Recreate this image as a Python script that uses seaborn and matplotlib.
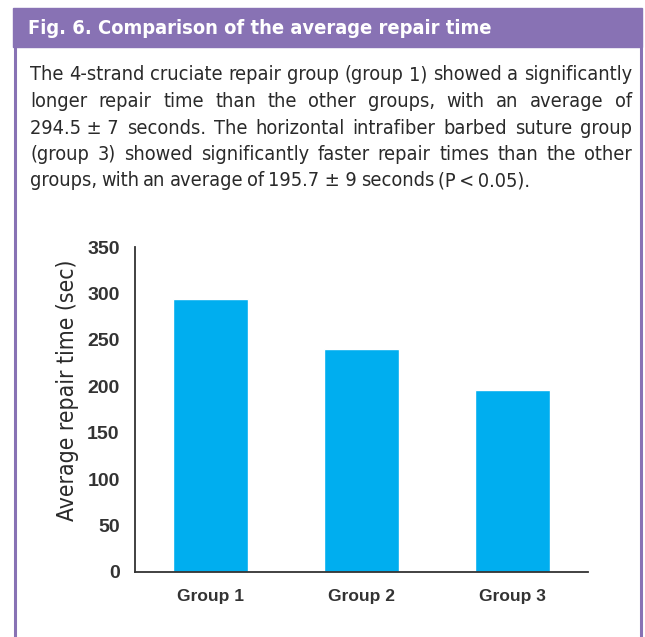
import matplotlib
matplotlib.use("Agg")
import matplotlib.pyplot as plt
import seaborn as sns
from matplotlib.patches import Rectangle
from matplotlib.lines import Line2D

# Data
groups = ["Group 1", "Group 2", "Group 3"]
repair_time = [294.5, 240.0, 195.7]
y_ticks = [0, 50, 100, 150, 200, 250, 300, 350]

title = "Fig. 6. Comparison of the average repair time"
body_lines = [
    "The 4-strand cruciate repair group (group 1) showed a significantly",
    "longer repair time than the other groups, with an average of",
    "294.5~±~7 seconds. The horizontal intrafiber barbed suture group",
    "(group 3) showed significantly faster repair times than the other",
    "groups, with an average of 195.7~±~9 seconds (P\u2009<\u20090.05).",
]

W, H = 645, 637
purple = "#8872b4"
blue = "#00aeef"
dark = "#333333"
text_col = "#2a2a2a"

sns.set_style("white")
plt.rcParams["font.family"] = ["Liberation Sans", "DejaVu Sans"]

fig = plt.figure(figsize=(W / 100, H / 100), dpi=100)
fig.patch.set_facecolor("white")


def fx(px):
    return px / W


def fy(py):
    return 1 - py / H


narrow = dict(family="DejaVu Sans", fontstretch="condensed")

# purple header band and side rules
fig.patches.append(Rectangle((fx(13), fy(47)), fx(642) - fx(13), fy(8) - fy(47),
                             transform=fig.transFigure, color=purple, zorder=0))
fig.lines.append(Line2D([fx(14.5), fx(14.5)], [fy(47), 0], transform=fig.transFigure,
                        color=purple, lw=2.2))
fig.lines.append(Line2D([fx(640.5), fx(640.5)], [fy(47), 0], transform=fig.transFigure,
                        color=purple, lw=2.2))
fig.text(fx(28), fy(28), title, color="white", fontsize=14.4, fontweight="bold",
         va="center", ha="left", **narrow)

# body text, justified word by word
renderer = fig.canvas.get_renderer()
left, right = 30, 632
line_y = [75, 101.5, 128, 154.5, 181]
for i, line in enumerate(body_lines):
    words = [w.replace("~", " ") for w in line.split(" ")]
    texts = [fig.text(0, fy(line_y[i]), w, fontsize=14.3, color=text_col,
                      va="center", ha="left", **narrow) for w in words]
    widths = [t.get_window_extent(renderer).width for t in texts]
    if i < len(body_lines) - 1:
        gap = (right - left - sum(widths)) / (len(words) - 1)
    else:
        gap = 4
    x = left
    for t, w in zip(texts, widths):
        t.set_x(fx(x))
        x += w + gap

# bar chart
ax = fig.add_axes([fx(135), fy(572), fx(588) - fx(135), fy(247) - fy(572)])
sns.barplot(x=groups, y=repair_time, color=blue, saturation=1, width=0.5, ax=ax)
ax.set_xlim(-0.5, 2.5)
ax.set_ylim(0, 350)
ax.set_yticks(y_ticks)
ax.set_yticklabels([str(v) for v in y_ticks], fontsize=14, fontweight="bold", color=dark)
ax.set_xticklabels(groups, fontsize=12.5, fontweight="bold", color=dark)
ax.tick_params(axis="y", direction="in", length=5, width=1.2, color=dark, pad=11)
ax.tick_params(axis="x", length=0, pad=12)
ax.set_ylabel("Average repair time (sec)", fontsize=16.5, color=text_col, **narrow)
ax.yaxis.set_label_coords(-0.1235, 0.56)
ax.set_xlabel("")
for s in ["top", "right"]:
    ax.spines[s].set_visible(False)
for s in ["left", "bottom"]:
    ax.spines[s].set_color(dark)
    ax.spines[s].set_linewidth(1.3)
ax.patch.set_alpha(0)

fig.savefig("out.png", dpi=100)
